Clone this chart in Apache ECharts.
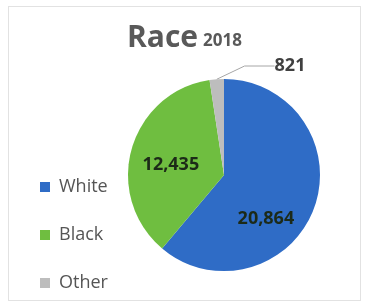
<!DOCTYPE html>
<html>
<head>
<meta charset="utf-8">
<script src="https://cdn.jsdelivr.net/npm/echarts@6/dist/echarts.min.js"></script>
<style>
  html, body { margin: 0; padding: 0; background: #fff; }
  #frame { position: absolute; left: 8px; top: 6px; width: 351px; height: 293px; border: 1px solid #e2e2e2; }
  #chart { position: absolute; left: 0; top: 0; width: 367px; height: 305px; }
</style>
</head>
<body>
<div id="frame"></div>
<div id="chart"></div>
<script>
  var categories = ['White', 'Black', 'Other'];
  var counts = [20864, 12435, 821];
  var colors = ['#2f6cc6', '#6fbe40', '#bdbdbd'];
  var year = '2018';

  var chart = echarts.init(document.getElementById('chart'));
  var pieData = categories.map(function (name, i) {
    var item = { name: name, value: counts[i], itemStyle: { color: colors[i] } };
    if (name === 'Other') {
      item.label = { position: 'outside', color: '#404040' };
    }
    return item;
  });

  var option = {
    animation: false,
    title: {
      text: '{a|Race} {b|' + year + '}',
      left: 122,
      top: 18,
      textStyle: {
        rich: {
          a: { fontFamily: 'Open Sans', fontSize: 30, fontWeight: 'bold', color: '#595959' },
          b: { fontFamily: 'Open Sans', fontSize: 17, fontWeight: 'bold', color: '#595959', padding: [6, 0, 0, 0] }
        }
      }
    },
    legend: {
      orient: 'vertical',
      left: 35,
      top: 172,
      itemWidth: 10,
      itemHeight: 10,
      itemGap: 28,
      icon: 'rect',
      data: categories,
      textStyle: { fontFamily: 'Open Sans', fontSize: 18, color: '#555555', lineHeight: 20, padding: [0, 0, 0, 4] }
    },
    series: [{
      type: 'pie',
      center: [224, 175],
      radius: 96,
      startAngle: 90,
      clockwise: true,
      data: pieData,
      label: {
        position: 'inside',
        formatter: function (p) { return p.value.toLocaleString('en-US'); },
        fontFamily: 'Open Sans',
        fontSize: 18,
        fontWeight: 'bold',
        color: '#1c2a18'
      },
      labelLine: { show: true, length: 6, length2: 30, lineStyle: { color: '#a6a6a6', width: 1 } },
      labelLayout: function (params) {
        if (params.dataIndex === 0) {
          return { dx: -6, dy: 26 };
        }
        if (params.dataIndex === 1) {
          return { dx: -4, dy: 4 };
        }
        return { x: 290, y: 66, align: 'center', verticalAlign: 'middle' };
      },
      emphasis: { disabled: true }
    }]
  };

  chart.setOption(option);
</script>
</body>
</html>
